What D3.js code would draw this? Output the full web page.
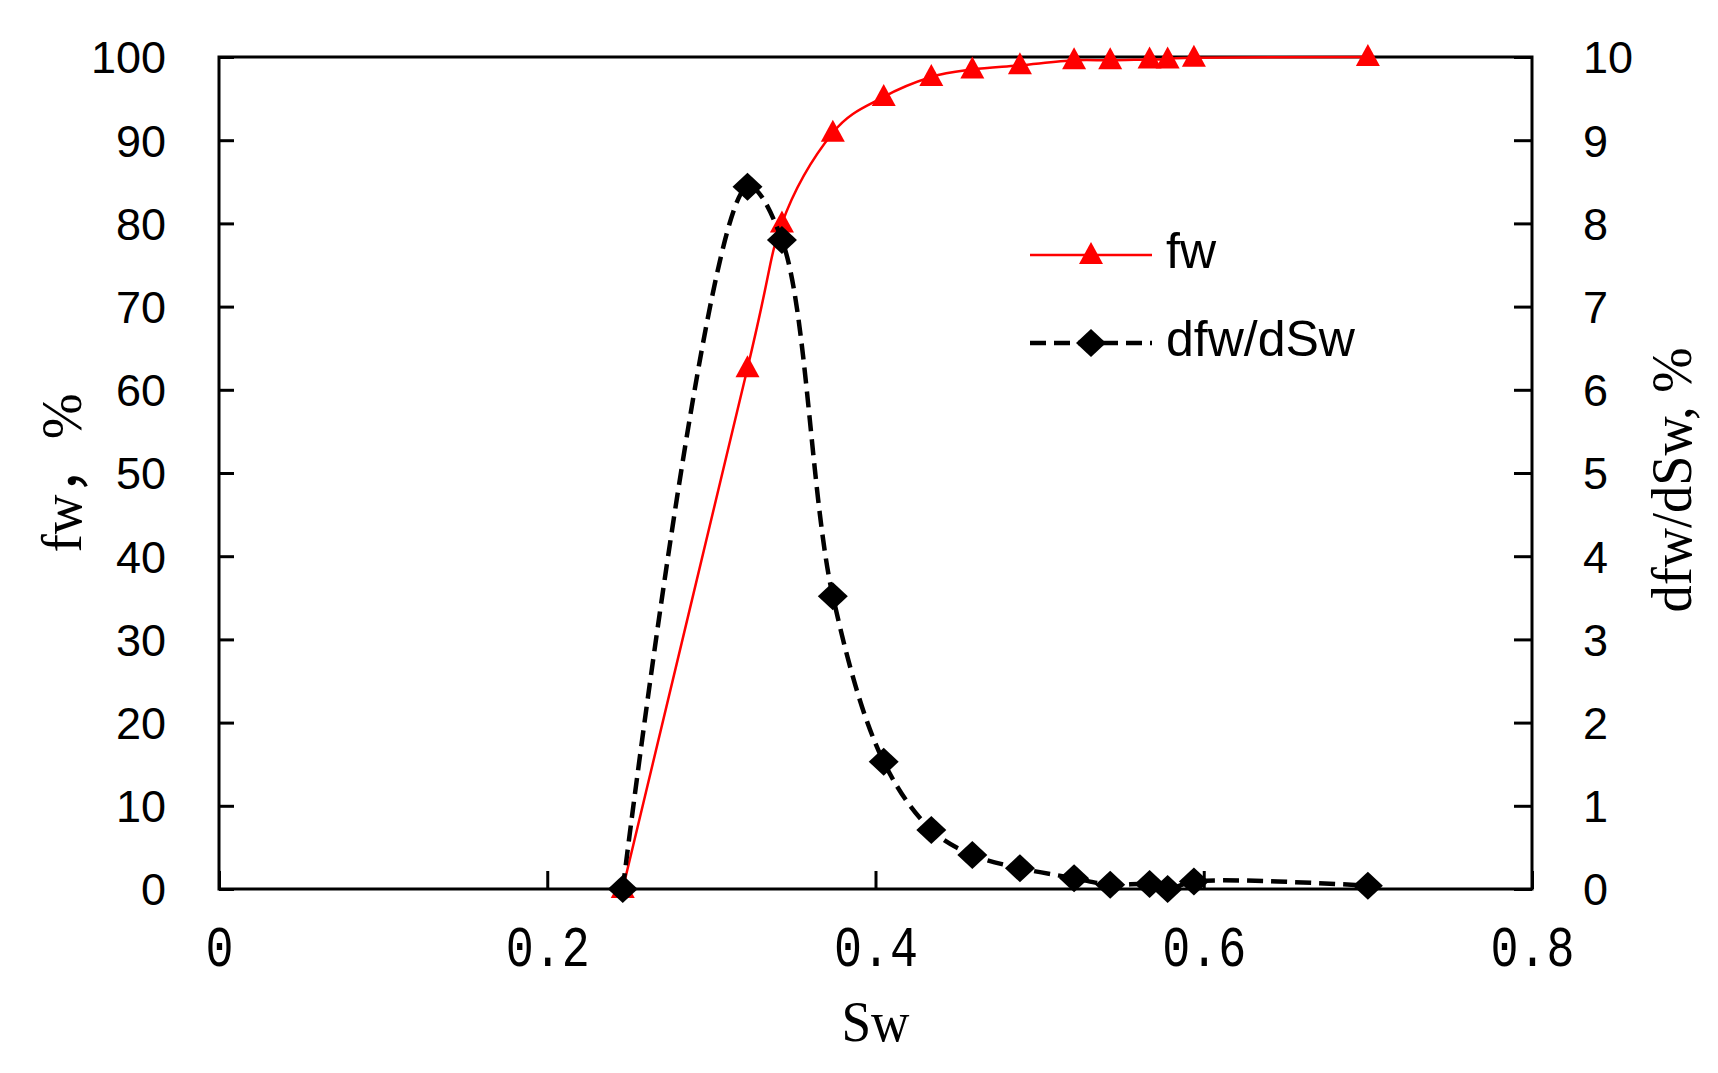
<!DOCTYPE html>
<html>
<head>
<meta charset="utf-8">
<script src="https://cdn.jsdelivr.net/npm/d3@7"></script>
<style>
  html, body { margin: 0; padding: 0; background: #ffffff; }
  svg { display: block; }
</style>
</head>
<body>
<svg id="chart" width="1718" height="1073"></svg>
<script>
// ---- data ----
const sw = [0.246, 0.322, 0.343, 0.374, 0.405, 0.434, 0.459, 0.488, 0.521, 0.543, 0.567, 0.578, 0.594, 0.700];
const fw = [0, 62.6, 80.0, 90.9, 95.2, 97.6, 98.5, 99.0, 99.6, 99.6, 99.7, 99.7, 99.9, 100];
const dfw = [0, 8.44, 7.80, 3.52, 1.53, 0.71, 0.41, 0.25, 0.13, 0.05, 0.06, 0.0, 0.09, 0.04];
const xTicks = [0, 0.2, 0.4, 0.6, 0.8];
const yLeftTicks = [0, 10, 20, 30, 40, 50, 60, 70, 80, 90, 100];
const yRightTicks = [0, 1, 2, 3, 4, 5, 6, 7, 8, 9, 10];
const seriesNames = ["fw", "dfw/dSw"];
const xTitle = "Sw";
const yLeftTitle = "fw\uFF0C%";
const yRightTitle = "dfw/dSw, %";

// ---- layout ----
const L = 219, R = 1532, T = 57, B = 889;
const svg = d3.select("#chart");
svg.append("rect").attr("width", 1718).attr("height", 1073).attr("fill", "#fff");

const x = d3.scaleLinear().domain([0, 0.8]).range([L, R]);
const yL = d3.scaleLinear().domain([0, 100]).range([B, T]);
const yR = d3.scaleLinear().domain([0, 10]).range([B, T]);

const tickFont = "'Liberation Sans', Arial, sans-serif";
const serifFont = "'Liberation Serif', 'Times New Roman', 'Noto Sans CJK SC', serif";

// frame
svg.append("rect").attr("x", L).attr("y", T).attr("width", R - L).attr("height", B - T)
  .attr("fill", "none").attr("stroke", "#000").attr("stroke-width", 3);

// left axis
const gL = svg.append("g").attr("transform", `translate(${L},0)`)
  .call(d3.axisLeft(yL).tickValues(yLeftTicks).tickSize(-15).tickPadding(53).tickFormat(d3.format("d")));
// right axis
const gR = svg.append("g").attr("transform", `translate(${R},0)`)
  .call(d3.axisRight(yR).tickValues(yRightTicks).tickSize(-18).tickPadding(51).tickFormat(d3.format("d")));
// bottom axis
const gB = svg.append("g").attr("transform", `translate(0,${B})`)
  .call(d3.axisBottom(x).tickValues(xTicks).tickSize(-18).tickPadding(0).tickFormat(d => d === 0 ? "0" : d3.format(".1f")(d)));

[gL, gR, gB].forEach(g => {
  g.select(".domain").remove();
  g.selectAll(".tick line").attr("stroke", "#000").attr("stroke-width", 3);
});
[gL, gR].forEach(g => {
  g.selectAll(".tick text").attr("font-family", tickFont).attr("font-size", 45)
    .attr("fill", "#000").attr("dy", "0.355em");
});
gB.selectAll(".tick text")
  .attr("font-family", "'Liberation Mono', 'DejaVu Sans Mono', monospace")
  .attr("font-size", 57).attr("fill", "#000")
  .attr("dy", null).attr("y", 77)
  .each(function() {
    const t = d3.select(this);
    t.attr("textLength", t.text().length * 28).attr("lengthAdjust", "spacingAndGlyphs");
  });

// axis titles
svg.append("text").attr("x", (L + R) / 2).attr("y", 1041).attr("text-anchor", "middle")
  .attr("font-family", serifFont).attr("font-size", 56).attr("fill", "#000")
  .attr("textLength", 68).attr("lengthAdjust", "spacingAndGlyphs").text(xTitle);
svg.append("text").attr("transform", `translate(81,${(T + B) / 2}) rotate(-90)`).attr("text-anchor", "middle")
  .attr("font-family", serifFont).attr("font-size", 58).attr("fill", "#000")
  .attr("textLength", 159).attr("lengthAdjust", "spacingAndGlyphs").text(yLeftTitle);
svg.append("text").attr("transform", `translate(1691,480) rotate(-90)`).attr("text-anchor", "middle")
  .attr("font-family", serifFont).attr("font-size", 58).attr("fill", "#000")
  .attr("textLength", 265).attr("lengthAdjust", "spacingAndGlyphs").text(yRightTitle);

// markers
const triPath = "M0,-13L12,9L-12,9Z";
const diaPath = "M0,-14L15,0L0,14L-15,0Z";

// fw series
const lineFw = d3.line().x((d, i) => x(sw[i])).y(d => yL(d)).curve(d3.curveCardinal.tension(0));
svg.append("path").datum(fw).attr("d", lineFw).attr("fill", "none")
  .attr("stroke", "#ff0000").attr("stroke-width", 2.5);
svg.append("g").selectAll("path").data(fw).join("path")
  .attr("transform", (d, i) => `translate(${x(sw[i])},${yL(d)})`)
  .attr("d", triPath).attr("fill", "#ff0000");

// dfw series
const lineDfw = d3.line().x((d, i) => x(sw[i])).y(d => yR(d)).curve(d3.curveCatmullRom.alpha(0.5));
svg.append("path").datum(dfw).attr("d", lineDfw).attr("fill", "none")
  .attr("stroke", "#000").attr("stroke-width", 4.5).attr("stroke-dasharray", "16,8");
svg.append("g").selectAll("path").data(dfw).join("path")
  .attr("transform", (d, i) => `translate(${x(sw[i])},${yR(d)})`)
  .attr("d", diaPath).attr("fill", "#000");

// legend
const lg = svg.append("g");
const legendRows = [
  { name: seriesNames[0], y: 255, color: "#ff0000", width: 2.5, dash: null, marker: triPath },
  { name: seriesNames[1], y: 343, color: "#000", width: 4.5, dash: "16,8", marker: diaPath }
];
legendRows.forEach(r => {
  lg.append("line").attr("x1", 1030).attr("x2", 1152).attr("y1", r.y).attr("y2", r.y)
    .attr("stroke", r.color).attr("stroke-width", r.width).attr("stroke-dasharray", r.dash);
  lg.append("path").attr("transform", `translate(1091,${r.y})`).attr("d", r.marker).attr("fill", r.color);
  lg.append("text").attr("x", 1166).attr("y", r.y + 13).attr("font-family", tickFont)
    .attr("font-size", 50).attr("fill", "#000").text(r.name);
});
</script>
</body>
</html>
